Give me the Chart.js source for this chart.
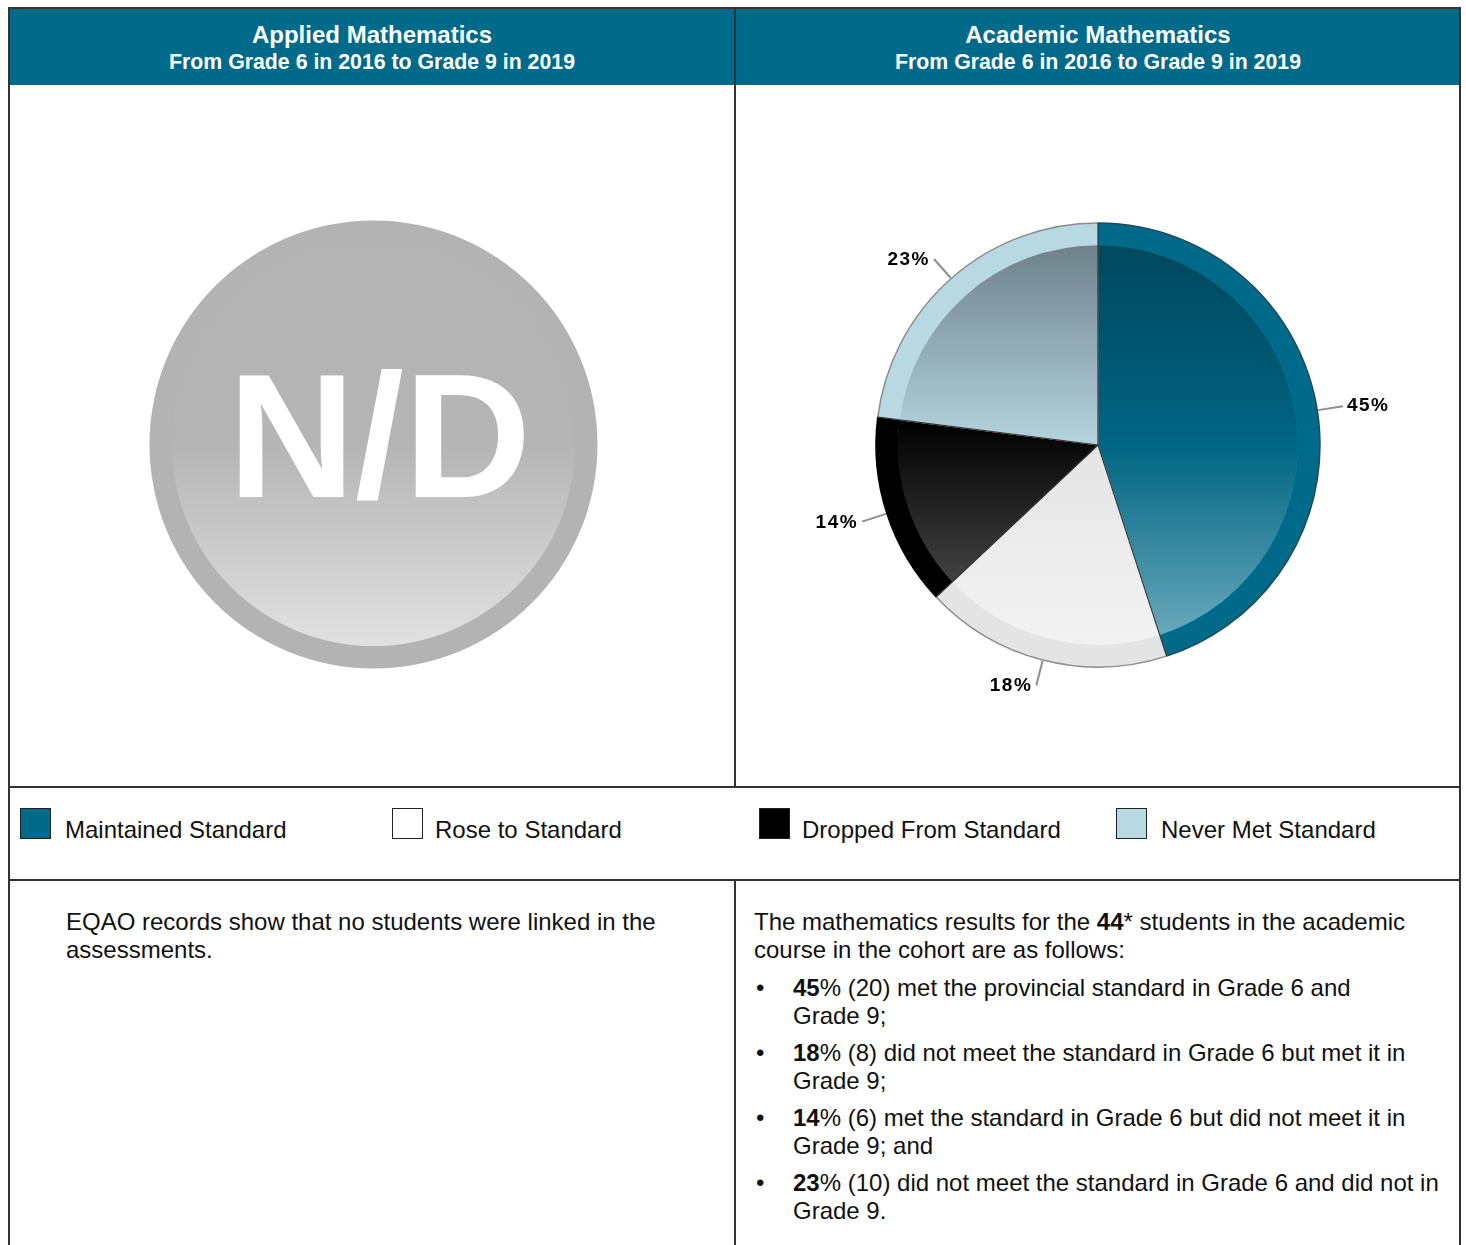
<!DOCTYPE html>
<html>
<head>
<meta charset="utf-8">
<title>Mathematics cohort</title>
<script src="https://cdn.jsdelivr.net/npm/chart.js@4/dist/chart.umd.min.js"></script>
<style>
    body { margin: 0; background: #fff; font-family: "Liberation Sans", Arial, sans-serif; color: #111; width: 1466px; height: 1245px; overflow: hidden; position: relative; }
    .rule { position: absolute; background: #333; }
    .head { position: absolute; top: 9px; height: 76px; background: #006a8a; color: #fff; }
    .title, .sub { position: absolute; left: 0; right: 0; text-align: center; font-weight: bold; line-height: 26px; white-space: nowrap; }
    .title { top: 13px; font-size: 24px; }
    .sub { top: 40px; font-size: 21.3px; }
    .pie-box { position: absolute; top: 85px; width: 724px; height: 701px; }
    .legend-item { position: absolute; top: 808px; height: 32px; }
    .swatch { position: absolute; left: 0; top: 0; width: 29px; height: 29px; border: 1.5px solid #222; }
    .legend-text { position: absolute; top: 8px; font-size: 24px; line-height: 28px; white-space: nowrap; }
    .text { position: absolute; top: 908px; font-size: 24px; line-height: 28px; white-space: pre; }
    .text p { margin: 0 0 10px 0; }
    .text ul { list-style: none; margin: 0; padding: 0; }
    .text li { position: relative; padding-left: 39px; margin-bottom: 9px; }
    .text li::before { content: "\2022"; position: absolute; left: 2px; top: 0; }
</style>
</head>
<body>

<div class="head" style="left:10px;width:724px">
    <div class="title">Applied Mathematics</div>
    <div class="sub">From Grade 6 in 2016 to Grade 9 in 2019</div>
</div>
<div class="head" style="left:736px;width:724px">
    <div class="title">Academic Mathematics</div>
    <div class="sub">From Grade 6 in 2016 to Grade 9 in 2019</div>
</div>

<div class="pie-box" style="left:10px"><canvas id="appliedChart"></canvas></div>
<div class="pie-box" style="left:736px"><canvas id="academicChart"></canvas></div>

<div id="legend"></div>

<div class="text" style="left:66px">EQAO records show that no students were linked in the
assessments.</div>
<div class="text" style="left:754px" id="academicText"></div>

<!-- table rules -->
<div class="rule" style="left:8px;top:7px;width:1453px;height:2px"></div>
<div class="rule" style="left:8px;top:7px;width:2px;height:1245px"></div>
<div class="rule" style="left:1459px;top:7px;width:2px;height:1245px"></div>
<div class="rule" style="left:734px;top:7px;width:2px;height:780px"></div>
<div class="rule" style="left:734px;top:879px;width:2px;height:400px"></div>
<div class="rule" style="left:8px;top:786px;width:1453px;height:2px"></div>
<div class="rule" style="left:8px;top:879px;width:1453px;height:2px"></div>

<script>
const categories = ['Maintained Standard', 'Rose to Standard', 'Dropped From Standard', 'Never Met Standard'];
const academicPercents = [45, 18, 14, 23];
const academicCounts = [20, 8, 6, 10];
const academicTotal = 44;
const appliedValues = [1];   // no linked students: shown as a plain N/D disc
const appliedLabel = 'N/D';
const outcomeText = [
    'met the provincial standard in Grade 6 and\nGrade 9;',
    'did not meet the standard in Grade 6 but met it in\nGrade 9;',
    'met the standard in Grade 6 but did not meet it in\nGrade 9; and',
    'did not meet the standard in Grade 6 and did not in\nGrade 9.'
];

// colours
const ringColours = ['#006a8a', '#e4e4e4', '#000000', '#b8d8e2'];
const swatchColours = ['#006a8a', '#ffffff', '#000000', '#b8d8e2'];
const rimColours = ['#1d4c5c', '#8c8c8c', '#000000', '#8c8c8c'];
const shadeStops = [
    [[0, '#00445a'], [0.5, '#006583'], [1, '#79b4c3']],
    [[0, '#d8d8d8'], [0.55, '#e6e6e6'], [1, '#f4f4f4']],
    [[0, '#000000'], [0.45, '#000000'], [1, '#666666']],
    [[0, '#677882'], [0.48, '#b1d1db'], [1, '#c8e2e9']]
];
const greyStops = [[0, '#b3b3b3'], [0.5, '#b5b5b5'], [1, '#e6e6e6']];

function verticalGradient(chart, stops) {
    const area = chart.chartArea;
    if (!area) return stops[0][1];
    const r = Math.min(area.right - area.left, area.bottom - area.top) / 2;
    const cy = (area.top + area.bottom) / 2;
    const g = chart.ctx.createLinearGradient(0, cy - r, 0, cy + r);
    stops.forEach(s => g.addColorStop(s[0], s[1]));
    return g;
}

const sliceEdges = {
    id: 'sliceEdges',
    afterDatasetsDraw(chart) {
        const arcs = chart.getDatasetMeta(0).data;
        const ctx = chart.ctx;
        ctx.save();
        arcs.forEach((arc, i) => {
            const p = arc.getProps(['x', 'y', 'startAngle', 'endAngle', 'outerRadius']);
            ctx.strokeStyle = rimColours[i];
            ctx.lineWidth = 1.5;
            ctx.beginPath();
            ctx.arc(p.x, p.y, p.outerRadius, p.startAngle, p.endAngle);
            ctx.stroke();
        });
        arcs.forEach((arc, i) => {
            const p = arc.getProps(['x', 'y', 'startAngle', 'outerRadius']);
            ctx.strokeStyle = '#333';
            ctx.lineWidth = 1.2;
            ctx.beginPath();
            ctx.moveTo(p.x, p.y);
            ctx.lineTo(p.x + Math.cos(p.startAngle) * p.outerRadius, p.y + Math.sin(p.startAngle) * p.outerRadius);
            ctx.stroke();
        });
        ctx.restore();
    }
};

const sliceLabels = {
    id: 'sliceLabels',
    afterDatasetsDraw(chart) {
        const arcs = chart.getDatasetMeta(0).data;
        const ctx = chart.ctx;
        ctx.save();
        ctx.font = 'bold 19px "Liberation Sans", Arial, sans-serif';
        ctx.letterSpacing = '1.5px';
        ctx.textBaseline = 'middle';
        ctx.fillStyle = '#000';
        arcs.forEach((arc, i) => {
            const p = arc.getProps(['x', 'y', 'startAngle', 'endAngle', 'outerRadius']);
            const mid = (p.startAngle + p.endAngle) / 2;
            const cos = Math.cos(mid), sin = Math.sin(mid);
            const x1 = p.x + cos * (p.outerRadius + 1), y1 = p.y + sin * (p.outerRadius + 1);
            const x2 = p.x + cos * (p.outerRadius + 26), y2 = p.y + sin * (p.outerRadius + 26);
            ctx.strokeStyle = '#8e8e8e';
            ctx.lineWidth = 2;
            ctx.beginPath();
            ctx.moveTo(x1, y1);
            ctx.lineTo(x2, y2);
            ctx.stroke();
            const label = chart.data.datasets[0].data[i] + '%';
            if (cos >= 0) {
                ctx.textAlign = 'left';
                ctx.fillText(label, x2 + 4, y2);
            } else {
                ctx.textAlign = 'right';
                ctx.fillText(label, x2 - 4, y2 + 1);
            }
        });
        ctx.restore();
    }
};

const centreText = {
    id: 'centreText',
    afterDatasetsDraw(chart) {
        const arc = chart.getDatasetMeta(0).data[0];
        if (!arc) return;
        const p = arc.getProps(['x', 'y']);
        const ctx = chart.ctx;
        ctx.save();
        ctx.font = 'bold 176px "Liberation Sans", Arial, sans-serif';
        ctx.fillStyle = '#ffffff';
        ctx.textAlign = 'center';
        ctx.textBaseline = 'alphabetic';
        ctx.fillText(appliedLabel, p.x + 6, p.y + 52);
        ctx.restore();
    }
};

function baseOptions(padding) {
    return {
        responsive: true,
        maintainAspectRatio: false,
        animation: false,
        events: [],
        layout: { padding: padding },
        plugins: { legend: { display: false }, tooltip: { enabled: false } }
    };
}

function createCharts() {
    new Chart(document.getElementById('academicChart').getContext('2d'), {
        type: 'pie',
        data: {
            labels: categories,
            datasets: [{
                data: academicPercents,
                weight: 1,
                backgroundColor: ringColours,
                borderWidth: 0
            }, {
                data: academicPercents,
                weight: 9,
                backgroundColor: ctx => verticalGradient(ctx.chart, shadeStops[ctx.dataIndex]),
                borderColor: ctx => verticalGradient(ctx.chart, shadeStops[ctx.dataIndex]),
                borderWidth: 1
            }]
        },
        options: baseOptions({ left: 140, right: 140, top: 138, bottom: 119 }),
        plugins: [sliceEdges, sliceLabels]
    });

    new Chart(document.getElementById('appliedChart').getContext('2d'), {
        type: 'pie',
        data: {
            labels: [appliedLabel],
            datasets: [{
                data: appliedValues,
                weight: 1,
                backgroundColor: '#b3b3b3',
                borderWidth: 0
            }, {
                data: appliedValues,
                weight: 9,
                backgroundColor: ctx => verticalGradient(ctx.chart, greyStops),
                borderColor: ctx => verticalGradient(ctx.chart, greyStops),
                borderWidth: 1.5
            }]
        },
        options: baseOptions({ left: 139.5, right: 136.5, top: 135.5, bottom: 117.5 }),
        plugins: [centreText]
    });
}

function buildLegend() {
    const legendLeft = [20, 392, 759, 1116];
    const textGap = [45, 43, 43, 45];
    const legend = document.getElementById('legend');
    categories.forEach((cat, i) => {
        const item = document.createElement('div');
        item.className = 'legend-item';
        item.style.left = legendLeft[i] + 'px';
        const sw = document.createElement('div');
        sw.className = 'swatch';
        sw.style.background = swatchColours[i];
        item.appendChild(sw);
        const label = document.createElement('div');
        label.className = 'legend-text';
        label.style.left = textGap[i] + 'px';
        label.textContent = cat;
        item.appendChild(label);
        legend.appendChild(item);
    });
}

function buildText() {
    const box = document.getElementById('academicText');
    const intro = document.createElement('p');
    intro.innerHTML = 'The mathematics results for the <b>' + academicTotal + '</b>* students in the academic\ncourse in the cohort are as follows:';
    box.appendChild(intro);
    const list = document.createElement('ul');
    academicPercents.forEach((pct, i) => {
        const li = document.createElement('li');
        li.innerHTML = '<b>' + pct + '</b>% (' + academicCounts[i] + ') ' + outcomeText[i];
        list.appendChild(li);
    });
    box.appendChild(list);
}

buildLegend();
buildText();
createCharts();
</script>
</body>
</html>
